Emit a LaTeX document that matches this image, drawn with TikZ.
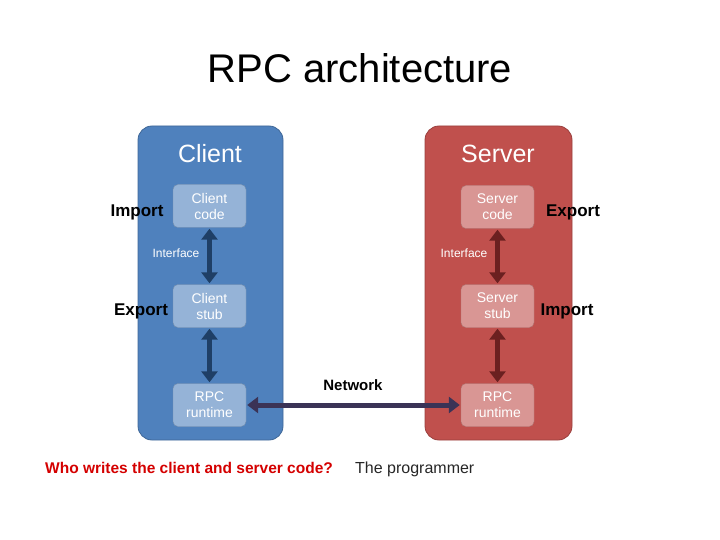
\documentclass[tikz,border=0pt]{standalone}
\usepackage{fontspec}
\setmainfont{Liberation Sans}
\usetikzlibrary{arrows.meta}
\definecolor{cfill}{HTML}{4F81BD}\definecolor{cedge}{HTML}{3A5F8E}\definecolor{cin}{HTML}{95B3D7}\definecolor{carr}{HTML}{1F3F66}
\definecolor{sfill}{HTML}{C0504D}\definecolor{sedge}{HTML}{8C3836}\definecolor{sin}{HTML}{D99694}\definecolor{sarr}{HTML}{6B2020}
\definecolor{net}{HTML}{3B3356}\definecolor{red1}{HTML}{D40000}
\begin{document}
\begin{tikzpicture}[x=1pt,y=-1pt,
 big/.style={draw=#1!80!black,rounded corners=14pt,line width=0.8pt},
 inner/.style={draw=#1!80!black,fill=#1,rounded corners=5pt,minimum width=73pt,minimum height=43pt,align=center,font=\fontsize{14}{16}\selectfont,text=white,inner sep=0pt},
 arr/.style={{Triangle[length=11pt,width=16pt]}-{Triangle[length=11pt,width=16pt]},line width=5pt,draw=#1,shorten >=1pt,shorten <=1pt},
 side/.style={font=\fontsize{17}{19}\selectfont\bfseries},
 ifc/.style={font=\fontsize{12}{14}\selectfont,text=white}]
\useasboundingbox (0,0) rectangle (720,540);
\node (title) at (360,68) {\fontsize{40}{44}\selectfont RPC architecture};
\path[big=cfill,fill=cfill] (138,126) rectangle (283,440);
\path[big=sfill,fill=sfill] (425,126) rectangle (572,440);
\node[text=white,font=\fontsize{25}{28}\selectfont] (cl) at (210,154) {Client};
\node[text=white,font=\fontsize{25}{28}\selectfont] (sv) at (498,154) {Server};
\node[inner=cin] (cc) at (209.5,206) {Client\\code};
\node[inner=cin] (cs) at (209.5,306) {Client\\stub};
\node[inner=cin] (cr) at (209.5,405) {RPC\\runtime};
\node[inner=sin] (sc) at (497.5,207) {Server\\code};
\node[inner=sin] (ss) at (497.5,306) {Server\\stub};
\node[inner=sin] (sr) at (497.5,405) {RPC\\runtime};
\draw[arr=carr] (cc) -- (cs);
\draw[arr=carr] (cs) -- (cr);
\draw[arr=sarr] (sc) -- (ss);
\draw[arr=sarr] (ss) -- (sr);
\draw[arr=net] (cr) -- (sr);
\node[ifc] (i1) at (176,253) {Interface};
\node[ifc] (i2) at (464,253) {Interface};
\node[side] (im1) at (137,212) {Import};
\node[side] (ex1) at (141,311) {Export};
\node[side] (ex2) at (573,212) {Export};
\node[side] (im2) at (567,311) {Import};
\node[font=\fontsize{15}{17}\selectfont\bfseries] (nw) at (353,385) {Network};
\node[anchor=base west,text=red1,font=\fontsize{15.5}{17}\selectfont\bfseries,inner sep=0pt] (q) at (45,473) {Who writes the client and server code?};
\node[anchor=base west,text=black!85,font=\fontsize{16}{18}\selectfont,inner sep=0pt] (a) at (355,473) {The programmer};
\end{tikzpicture}
\end{document}
